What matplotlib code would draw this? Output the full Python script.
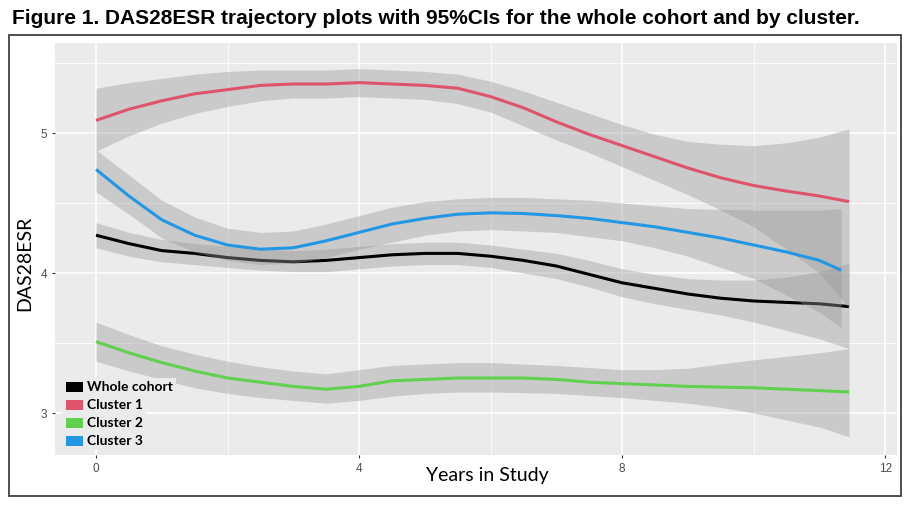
import matplotlib
matplotlib.use('Agg')
import matplotlib.pyplot as plt
from matplotlib.patches import Rectangle

# ---------------- data ----------------
title = "Figure 1. DAS28ESR trajectory plots with 95%CIs for the whole cohort and by cluster."
x_label = "Years in Study"
y_label = "DAS28ESR"
x_ticks = [0, 4, 8, 12]
y_ticks = [3, 4, 5]

years = [0, 0.5, 1, 1.5, 2, 2.5, 3, 3.5, 4, 4.5, 5, 5.5, 6, 6.5, 7, 7.5, 8, 8.5, 9, 9.5, 10, 10.5, 11, 11.45]
years_c3 = [0, 0.5, 1, 1.5, 2, 2.5, 3, 3.5, 4, 4.5, 5, 5.5, 6, 6.5, 7, 7.5, 8, 8.5, 9, 9.5, 10, 10.5, 11, 11.33]

whole = [4.27, 4.21, 4.16, 4.14, 4.11, 4.09, 4.08, 4.09, 4.11, 4.13, 4.14, 4.14, 4.12, 4.09, 4.05, 3.99, 3.93, 3.89, 3.85, 3.82, 3.80, 3.79, 3.78, 3.76]
whole_hi = [4.36, 4.29, 4.24, 4.21, 4.19, 4.17, 4.16, 4.17, 4.19, 4.21, 4.22, 4.22, 4.20, 4.17, 4.14, 4.09, 4.03, 3.99, 3.96, 3.95, 3.95, 3.97, 4.01, 4.07]
whole_lo = [4.18, 4.12, 4.08, 4.06, 4.04, 4.02, 4.01, 4.01, 4.03, 4.05, 4.06, 4.06, 4.04, 4.00, 3.96, 3.90, 3.83, 3.78, 3.74, 3.70, 3.65, 3.59, 3.53, 3.46]

c1 = [5.09, 5.17, 5.23, 5.28, 5.31, 5.34, 5.35, 5.35, 5.36, 5.35, 5.34, 5.32, 5.26, 5.18, 5.08, 4.99, 4.91, 4.83, 4.75, 4.68, 4.625, 4.585, 4.55, 4.51]
c1_hi = [5.32, 5.36, 5.39, 5.42, 5.44, 5.45, 5.45, 5.45, 5.46, 5.45, 5.44, 5.42, 5.37, 5.30, 5.22, 5.14, 5.06, 4.99, 4.94, 4.92, 4.91, 4.93, 4.97, 5.03]
c1_lo = [4.87, 4.98, 5.07, 5.14, 5.19, 5.23, 5.25, 5.25, 5.26, 5.25, 5.24, 5.21, 5.15, 5.05, 4.95, 4.86, 4.76, 4.66, 4.56, 4.45, 4.33, 4.17, 4.00, 3.75]

c2 = [3.51, 3.43, 3.36, 3.30, 3.25, 3.22, 3.19, 3.17, 3.19, 3.23, 3.24, 3.25, 3.25, 3.25, 3.24, 3.22, 3.21, 3.20, 3.19, 3.185, 3.18, 3.17, 3.16, 3.15]
c2_hi = [3.65, 3.56, 3.48, 3.42, 3.37, 3.33, 3.30, 3.28, 3.31, 3.34, 3.35, 3.36, 3.36, 3.35, 3.34, 3.325, 3.31, 3.31, 3.32, 3.35, 3.38, 3.405, 3.43, 3.46]
c2_lo = [3.37, 3.30, 3.24, 3.18, 3.14, 3.11, 3.09, 3.07, 3.09, 3.12, 3.14, 3.15, 3.15, 3.145, 3.14, 3.125, 3.11, 3.09, 3.07, 3.04, 3.00, 2.95, 2.90, 2.83]

c3 = [4.74, 4.55, 4.38, 4.27, 4.20, 4.17, 4.18, 4.23, 4.29, 4.35, 4.39, 4.42, 4.43, 4.425, 4.41, 4.39, 4.36, 4.33, 4.29, 4.25, 4.20, 4.15, 4.09, 4.02]
c3_hi = [4.88, 4.70, 4.52, 4.40, 4.32, 4.29, 4.30, 4.35, 4.41, 4.47, 4.51, 4.53, 4.54, 4.54, 4.53, 4.52, 4.50, 4.48, 4.46, 4.455, 4.45, 4.45, 4.45, 4.46]
c3_lo = [4.58, 4.42, 4.25, 4.15, 4.09, 4.06, 4.07, 4.11, 4.17, 4.22, 4.27, 4.30, 4.31, 4.30, 4.29, 4.26, 4.23, 4.18, 4.12, 4.04, 3.96, 3.84, 3.72, 3.61]

labels = ["Whole cohort", "Cluster 1", "Cluster 2", "Cluster 3"]
colors = ["#000000", "#DF536B", "#61D04F", "#2297E6"]

# ---------------- figure ----------------
W, H = 908, 507
fig = plt.figure(figsize=(W / 100, H / 100), dpi=100)
fig.patch.set_facecolor('white')

def fx(px):
    return px / W

def fy(py):
    return 1 - py / H

# outer frame
fig.patches.append(Rectangle((fx(9), fy(496)), (901 - 9) / W, (496 - 35) / H,
                             transform=fig.transFigure, fill=False,
                             edgecolor='#404040', linewidth=1.3, zorder=0))

fig.text(fx(12), fy(19), title, fontsize=15, fontweight='bold',
         family='Liberation Sans', ha='left', va='center')

ax = fig.add_axes([fx(55), fy(455), (897 - 55) / W, (455 - 43) / H])
ax.set_facecolor('#EBEBEB')
for s in ax.spines.values():
    s.set_visible(False)

ax.set_xlim(-0.624, 12.18)
ax.set_ylim(2.700, 5.643)
ax.set_xticks(x_ticks)
ax.set_yticks(y_ticks)
ax.set_xticks([2, 6, 10], minor=True)
ax.set_yticks([3.5, 4.5, 5.5], minor=True)
ax.grid(which='major', color='white', linewidth=1.2)
ax.grid(which='minor', color='white', linewidth=0.6)
ax.set_axisbelow(True)
ax.tick_params(which='major', length=2.5, width=0.8, color='#333333',
               labelsize=8.5, labelcolor='#4D4D4D', pad=3)
ax.tick_params(which='minor', length=0)
for lab in ax.get_xticklabels() + ax.get_yticklabels():
    lab.set_family('Liberation Sans')

series = [
    (years, whole, whole_lo, whole_hi),
    (years, c1, c1_lo, c1_hi),
    (years, c2, c2_lo, c2_hi),
    (years_c3, c3, c3_lo, c3_hi),
]
z = 2
for (xs, ys, lo, hi), col in zip(series, colors):
    ax.fill_between(xs, lo, hi, color='#999999', alpha=0.4, linewidth=0, zorder=z)
    ax.plot(xs, ys, color=col, linewidth=2.2, zorder=z + 0.5, solid_capstyle='butt')
    z += 1

fig.text(fx(25), fy(263), y_label, rotation=90, fontsize=14, family='Lato',
         ha='center', va='center')
fig.text(fx(487), fy(476), x_label, fontsize=14, family='Lato',
         ha='center', va='center')

# legend (pasted boxes over the panel)
row_y = [387, 405, 423, 441]
fig.patches.append(Rectangle((fx(62), fy(448)), (88 - 62) / W, (448 - 378) / H,
                             transform=fig.transFigure, facecolor='#EBEBEB',
                             edgecolor='none', zorder=10))
for lab, col, yy in zip(labels, colors, row_y):
    fig.patches.append(Rectangle((fx(66), fy(yy + 5)), 17 / W, 10 / H,
                                 transform=fig.transFigure, facecolor=col,
                                 edgecolor='none', zorder=11))
    fig.text(fx(87), fy(yy), lab, fontsize=10, fontweight='bold', family='Lato',
             ha='left', va='center', zorder=11,
             bbox=dict(facecolor='#EBEBEB', edgecolor='none', pad=2.2))

fig.savefig('out.png', dpi=100)
